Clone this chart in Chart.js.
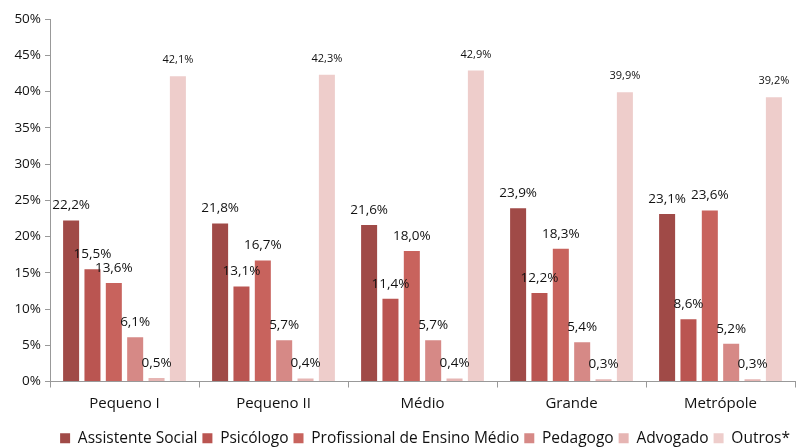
<!DOCTYPE html>
<html><head><meta charset="utf-8">
<script src="https://cdn.jsdelivr.net/npm/chart.js@4/dist/chart.umd.min.js"></script>
<style>html,body{margin:0;padding:0;background:#fff;}canvas{display:block;}</style>
</head><body>
<canvas id="c" width="796" height="447"></canvas>
<script>
const categories = ["Pequeno I","Pequeno II","Médio","Grande","Metrópole"];
const seriesNames = ["Assistente Social","Psicólogo","Profissional de Ensino Médio","Pedagogo","Advogado","Outros*"];
const assistenteSocial = [22.2,21.8,21.6,23.9,23.1];
const psicologo = [15.5,13.1,11.4,12.2,8.6];
const profissionalEnsinoMedio = [13.6,16.7,18.0,18.3,23.6];
const pedagogo = [6.1,5.7,5.7,5.4,5.2];
const advogado = [0.5,0.4,0.4,0.3,0.3];
const outros = [42.1,42.3,42.9,39.9,39.2];
const yTicks = [0,5,10,15,20,25,30,35,40,45,50];

const colors = ["#a04a47","#ba5551","#c8635d","#d68986","#e6b5b3","#eecdcb"];
const seriesData = [assistenteSocial,psicologo,profissionalEnsinoMedio,pedagogo,advogado,outros];
const FONT = "'Open Sans', sans-serif";

const labelPlugin = {
  id:'lbl',
  afterDatasetsDraw(chart){
    const ctx = chart.ctx;
    ctx.save();
    ctx.fillStyle = '#111';
    ctx.textAlign = 'center';
    ctx.textBaseline = 'middle';
    chart.data.datasets.forEach((ds,i)=>{
      const meta = chart.getDatasetMeta(i);
      ctx.font = (i===5 ? '11px ' : '13.5px ') + FONT;
      meta.data.forEach((el,j)=>{
        const v = ds.data[j];
        ctx.fillText(v.toFixed(1).replace('.',',')+'%', el.x, el.y - (i===5?16:15));
      });
    });
    ctx.restore();
  }
};

new Chart(document.getElementById('c'), {
  type:'bar',
  data:{
    labels:categories,
    datasets: seriesNames.map((n,i)=>({label:n,data:seriesData[i],backgroundColor:colors[i],categoryPercentage:0.86,barPercentage:0.75}))
  },
  options:{
    responsive:false,
    animation:false,
    layout:{padding:{top:19,right:1,left:0,bottom:-9}},
    plugins:{
      legend:{position:'bottom',align:'end',labels:{boxWidth:10,boxHeight:10,padding:5,color:'#111',font:{size:15.5,family:FONT}}},
      tooltip:{enabled:false}
    },
    scales:{
      x:{
        afterFit(s){s.height = 44;},
        grid:{display:true,drawOnChartArea:false,tickLength:6,color:'#999'},
        border:{color:'#999'},
        ticks:{color:'#111',font:{size:15,family:FONT},padding:7}
      },
      y:{
        min:0,max:50,
        afterBuildTicks(s){s.ticks = yTicks.map(v=>({value:v}));},
        afterFit(s){s.width = 50;},
        grid:{display:true,drawOnChartArea:false,tickLength:5,color:'#999'},
        border:{color:'#999'},
        ticks:{color:'#111',font:{size:13.5,family:FONT},padding:4,callback:v=>v+'%'}
      }
    }
  },
  plugins:[labelPlugin]
});
</script>
</body></html>
